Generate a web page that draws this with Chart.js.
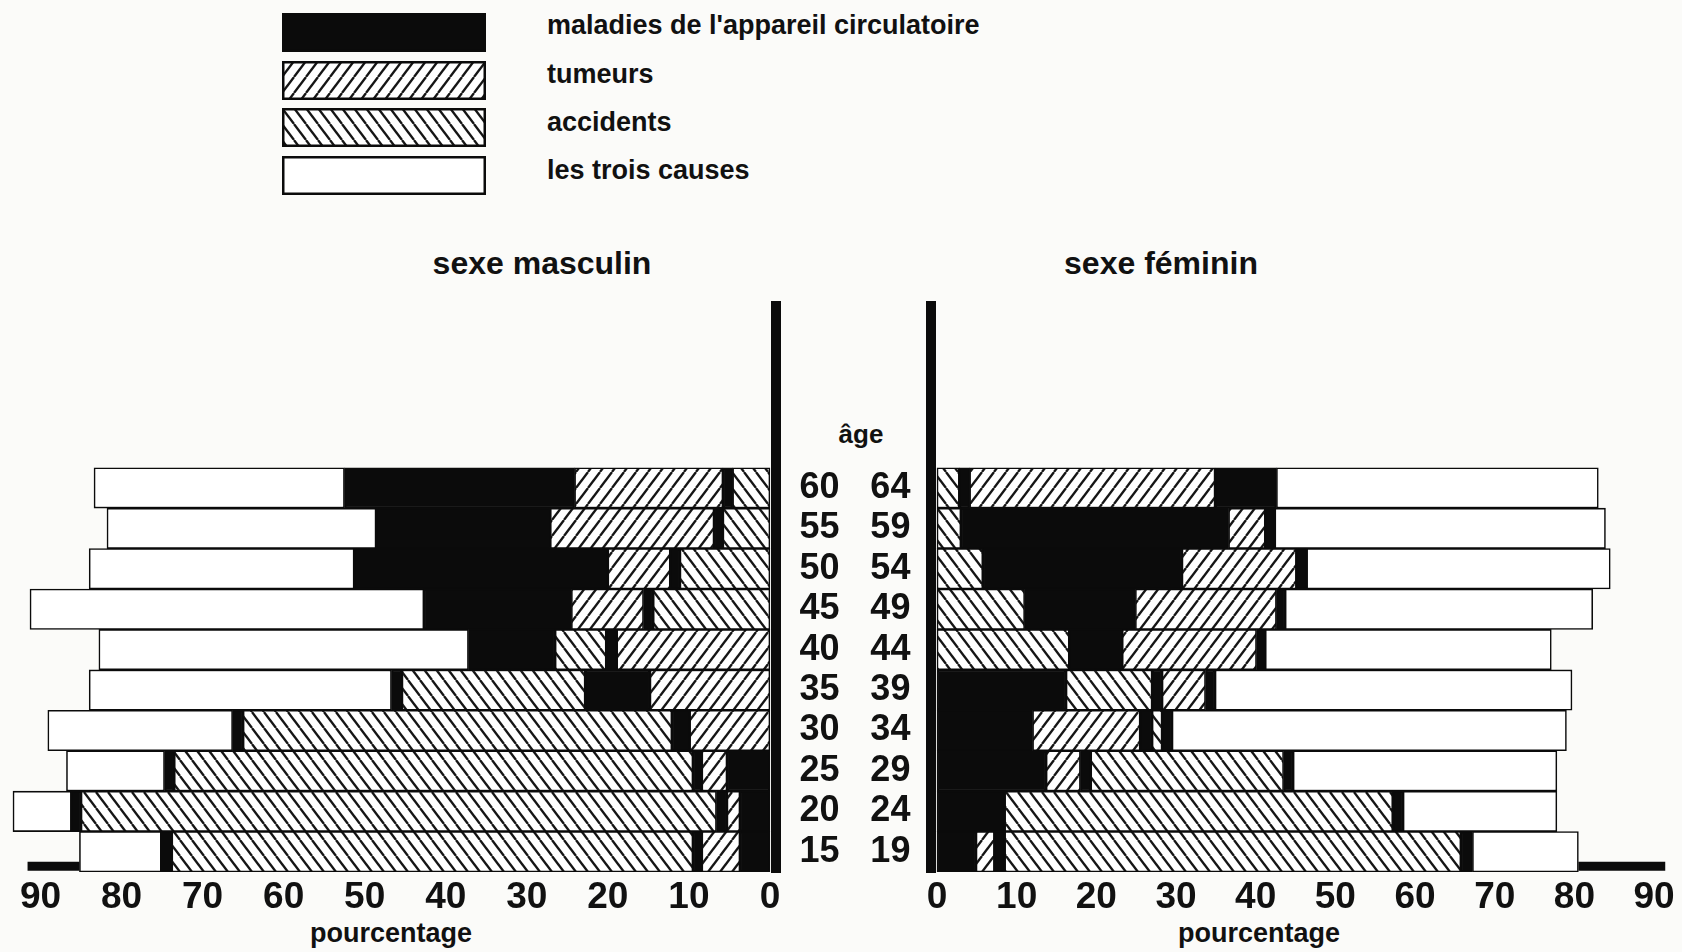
<!DOCTYPE html>
<html lang="fr">
<head>
<meta charset="utf-8">
<title>Causes de décès par âge</title>
<script src="https://cdn.jsdelivr.net/npm/chart.js@4.4.1/dist/chart.umd.min.js"></script>
<style>
  html, body { margin: 0; padding: 0; background: #fbfbf9; }
  body {
    width: 1682px; height: 952px; position: relative; overflow: hidden;
    font-family: "Liberation Sans", Arial, sans-serif; font-weight: bold; color: #111;
  }
  .txt { position: absolute; white-space: nowrap; transform: translate(-50%, -50%); }
  .lab { position: absolute; white-space: nowrap; transform: translateY(-50%); font-size: 27px; left: 547px; }
  canvas.key { position: absolute; left: 282px; }
  #male { position: absolute; left: 0; top: 296px; }
  #female { position: absolute; left: 850px; top: 296px; }
</style>
</head>
<body>

<canvas class="key" id="key0" width="204" height="39" style="top:13px"></canvas>
<canvas class="key" id="key1" width="204" height="39" style="top:61px"></canvas>
<canvas class="key" id="key2" width="204" height="39" style="top:108px"></canvas>
<canvas class="key" id="key3" width="204" height="39" style="top:156px"></canvas>
<div class="lab" id="lab0" style="top:25px"></div>
<div class="lab" id="lab1" style="top:74px"></div>
<div class="lab" id="lab2" style="top:122px"></div>
<div class="lab" id="lab3" style="top:170px"></div>

<div class="txt" style="left:542px; top:263px; font-size:32px">sexe masculin</div>
<div class="txt" style="left:1161px; top:263px; font-size:32px">sexe féminin</div>
<div class="txt" style="left:861px; top:434px; font-size:26px">âge</div>
<div class="txt" style="left:391px; top:933px; font-size:27px">pourcentage</div>
<div class="txt" style="left:1259px; top:933px; font-size:27px">pourcentage</div>

<canvas id="male" width="860" height="656"></canvas>
<canvas id="female" width="832" height="656"></canvas>

<script>
// classes d'âge, de haut en bas
const ageLow = ["60", "55", "50", "45", "40", "35", "30", "25", "20", "15"];
const ageHigh = ["64", "59", "54", "49", "44", "39", "34", "29", "24", "19"];

// C = circulatoire, T = tumeurs, A = accidents, W = les trois causes
const causeCodes = ["C", "T", "A", "W"];
const causeNames = ["maladies de l'appareil circulatoire", "tumeurs", "accidents", "les trois causes"];

// segments de chaque barre, de l'axe vers l'extérieur (pourcentages)
const maleTypes = [
  ["A", "C", "T", "C", "W"],
  ["A", "C", "T", "C", "W"],
  ["A", "C", "T", "C", "W"],
  ["A", "C", "T", "C", "W"],
  ["T", "C", "A", "C", "W"],
  ["T", "C", "A", "C", "W"],
  ["T", "C", "A", "C", "W"],
  ["C", "T", "C", "A", "C", "W"],
  ["C", "T", "C", "A", "C", "W"],
  ["C", "T", "C", "A", "C", "W"]
];
const maleEdges = [
  [0, 4.6, 5.8, 24.1, 52.5, 83.4],
  [0, 5.8, 6.9, 27.1, 48.6, 81.8],
  [0, 11.1, 12.3, 20.0, 51.3, 84.0],
  [0, 14.4, 15.6, 24.5, 42.7, 91.3],
  [0, 18.9, 20.2, 26.5, 37.2, 82.8],
  [0, 14.8, 22.8, 45.4, 46.7, 84.0],
  [0, 9.9, 12.1, 65.0, 66.3, 89.1],
  [0, 5.3, 8.4, 9.5, 73.5, 74.7, 86.8],
  [0, 3.7, 5.3, 6.6, 85.0, 86.2, 93.4],
  [0, 3.7, 8.4, 9.5, 73.8, 75.1, 85.2]
];

const femaleTypes = [
  ["A", "C", "T", "C", "W"],
  ["A", "C", "T", "C", "W"],
  ["A", "C", "T", "C", "W"],
  ["A", "C", "T", "C", "W"],
  ["A", "C", "T", "C", "W"],
  ["C", "A", "C", "T", "C", "W"],
  ["C", "T", "C", "A", "C", "W"],
  ["C", "T", "C", "A", "C", "W"],
  ["C", "A", "C", "W"],
  ["C", "T", "C", "A", "C", "W"]
];
const femaleEdges = [
  [0, 2.8, 4.1, 34.9, 42.6, 83.0],
  [0, 3.0, 36.6, 41.2, 42.4, 83.9],
  [0, 5.75, 30.75, 45.1, 46.4, 84.5],
  [0, 11.0, 24.9, 42.6, 43.7, 82.3],
  [0, 16.6, 23.25, 40.1, 41.2, 77.1],
  [0, 16.2, 27.0, 28.25, 33.7, 34.9, 79.7],
  [0, 12.0, 25.5, 27.0, 28.25, 29.5, 79.0],
  [0, 13.7, 18.0, 19.3, 43.5, 44.7, 77.8],
  [0, 8.5, 57.2, 58.5, 77.8],
  [0, 4.9, 7.2, 8.5, 65.75, 67.2, 80.5]
];

// trait noir sous la barre 15-19
const markerRow = 9;
const maleMarker = [85.2, 91.6];
const femaleMarker = [80.5, 91.4];

const xTicks = [0, 10, 20, 30, 40, 50, 60, 70, 80, 90];

const INK = "#0b0b0b";
const FONT = "'Liberation Sans', Arial, sans-serif";

// hachures
function hatch(dir) {
  const c = document.createElement("canvas");
  c.width = 12;
  c.height = 16;
  const g = c.getContext("2d");
  g.fillStyle = "#ffffff";
  g.fillRect(0, 0, 12, 16);
  g.strokeStyle = "#151515";
  g.lineWidth = 2.3;
  for (const off of [-12, 0, 12]) {
    g.beginPath();
    if (dir === "/") {
      g.moveTo(off, 16);
      g.lineTo(off + 12, 0);
    } else {
      g.moveTo(off, 0);
      g.lineTo(off + 12, 16);
    }
    g.stroke();
  }
  return g.createPattern(c, "repeat");
}

const fills = { C: INK, T: hatch("/"), A: hatch("\\"), W: "#ffffff" };

// légende
causeCodes.forEach((code, i) => {
  const g = document.getElementById("key" + i).getContext("2d");
  g.fillStyle = fills[code];
  g.fillRect(0, 0, 204, 39);
  g.strokeStyle = INK;
  g.lineWidth = 2.5;
  g.strokeRect(1.25, 1.25, 201.5, 36.5);
  document.getElementById("lab" + i).textContent = causeNames[i];
});

function buildDatasets(types, edges, marker) {
  const slots = Math.max(...types.map((t) => t.length));
  const sets = [];
  for (let k = 0; k < slots; k++) {
    const data = [];
    const bg = [];
    types.forEach((row, i) => {
      if (k < row.length) {
        data.push({ y: i, x: [edges[i][k], edges[i][k + 1]] });
        bg.push(fills[row[k]]);
      }
    });
    sets.push({
      type: "bar",
      data: data,
      backgroundColor: bg,
      borderColor: INK,
      borderWidth: 1.6,
      borderSkipped: false,
      grouped: false,
      barPercentage: 1,
      categoryPercentage: 1
    });
  }
  sets.push({
    type: "line",
    data: marker.map((v) => ({ x: v, y: markerRow + 0.36 })),
    borderColor: INK,
    borderWidth: 9,
    borderCapStyle: "butt",
    pointRadius: 0
  });
  return sets;
}

function noPad(s) {
  s.paddingTop = 0;
  s.paddingBottom = 0;
  s.paddingLeft = 0;
  s.paddingRight = 0;
}

function makeChart(id, types, edges, marker, isMale) {
  return new Chart(document.getElementById(id), {
    type: "bar",
    data: { datasets: buildDatasets(types, edges, marker) },
    options: {
      indexAxis: "y",
      responsive: false,
      animation: false,
      events: [],
      layout: { padding: { top: 10, left: 0, right: isMale ? 0 : 8, bottom: 0 } },
      plugins: { legend: { display: false }, tooltip: { enabled: false } },
      scales: {
        x: {
          type: "linear",
          reverse: isMale,
          min: -0.7,
          max: isMale ? 95 : 92.5,
          offset: false,
          grid: { display: false },
          border: { display: false },
          afterBuildTicks: (s) => { s.ticks = xTicks.map((v) => ({ value: v })); },
          afterFit: (s) => { s.height = 80; noPad(s); },
          ticks: { color: "#111", padding: -4, font: { family: FONT, size: 37, weight: "bold" } }
        },
        y: {
          type: "linear",
          position: isMale ? "right" : "left",
          reverse: true,
          min: -4.5,
          max: 9.5,
          offset: false,
          grid: { display: false },
          border: { display: true, width: 10, color: INK },
          afterBuildTicks: (s) => { s.ticks = ageLow.map((_, i) => ({ value: i })); },
          afterFit: (s) => { s.width = isMale ? 84.4 : 81.4; noPad(s); },
          ticks: {
            color: "#111",
            padding: isMale ? 16 : 13,
            font: { family: FONT, size: 36, weight: "bold" },
            callback: (v) => (isMale ? ageLow : ageHigh)[v]
          }
        }
      }
    }
  });
}

makeChart("male", maleTypes, maleEdges, maleMarker, true);
makeChart("female", femaleTypes, femaleEdges, femaleMarker, false);
</script>
</body>
</html>
